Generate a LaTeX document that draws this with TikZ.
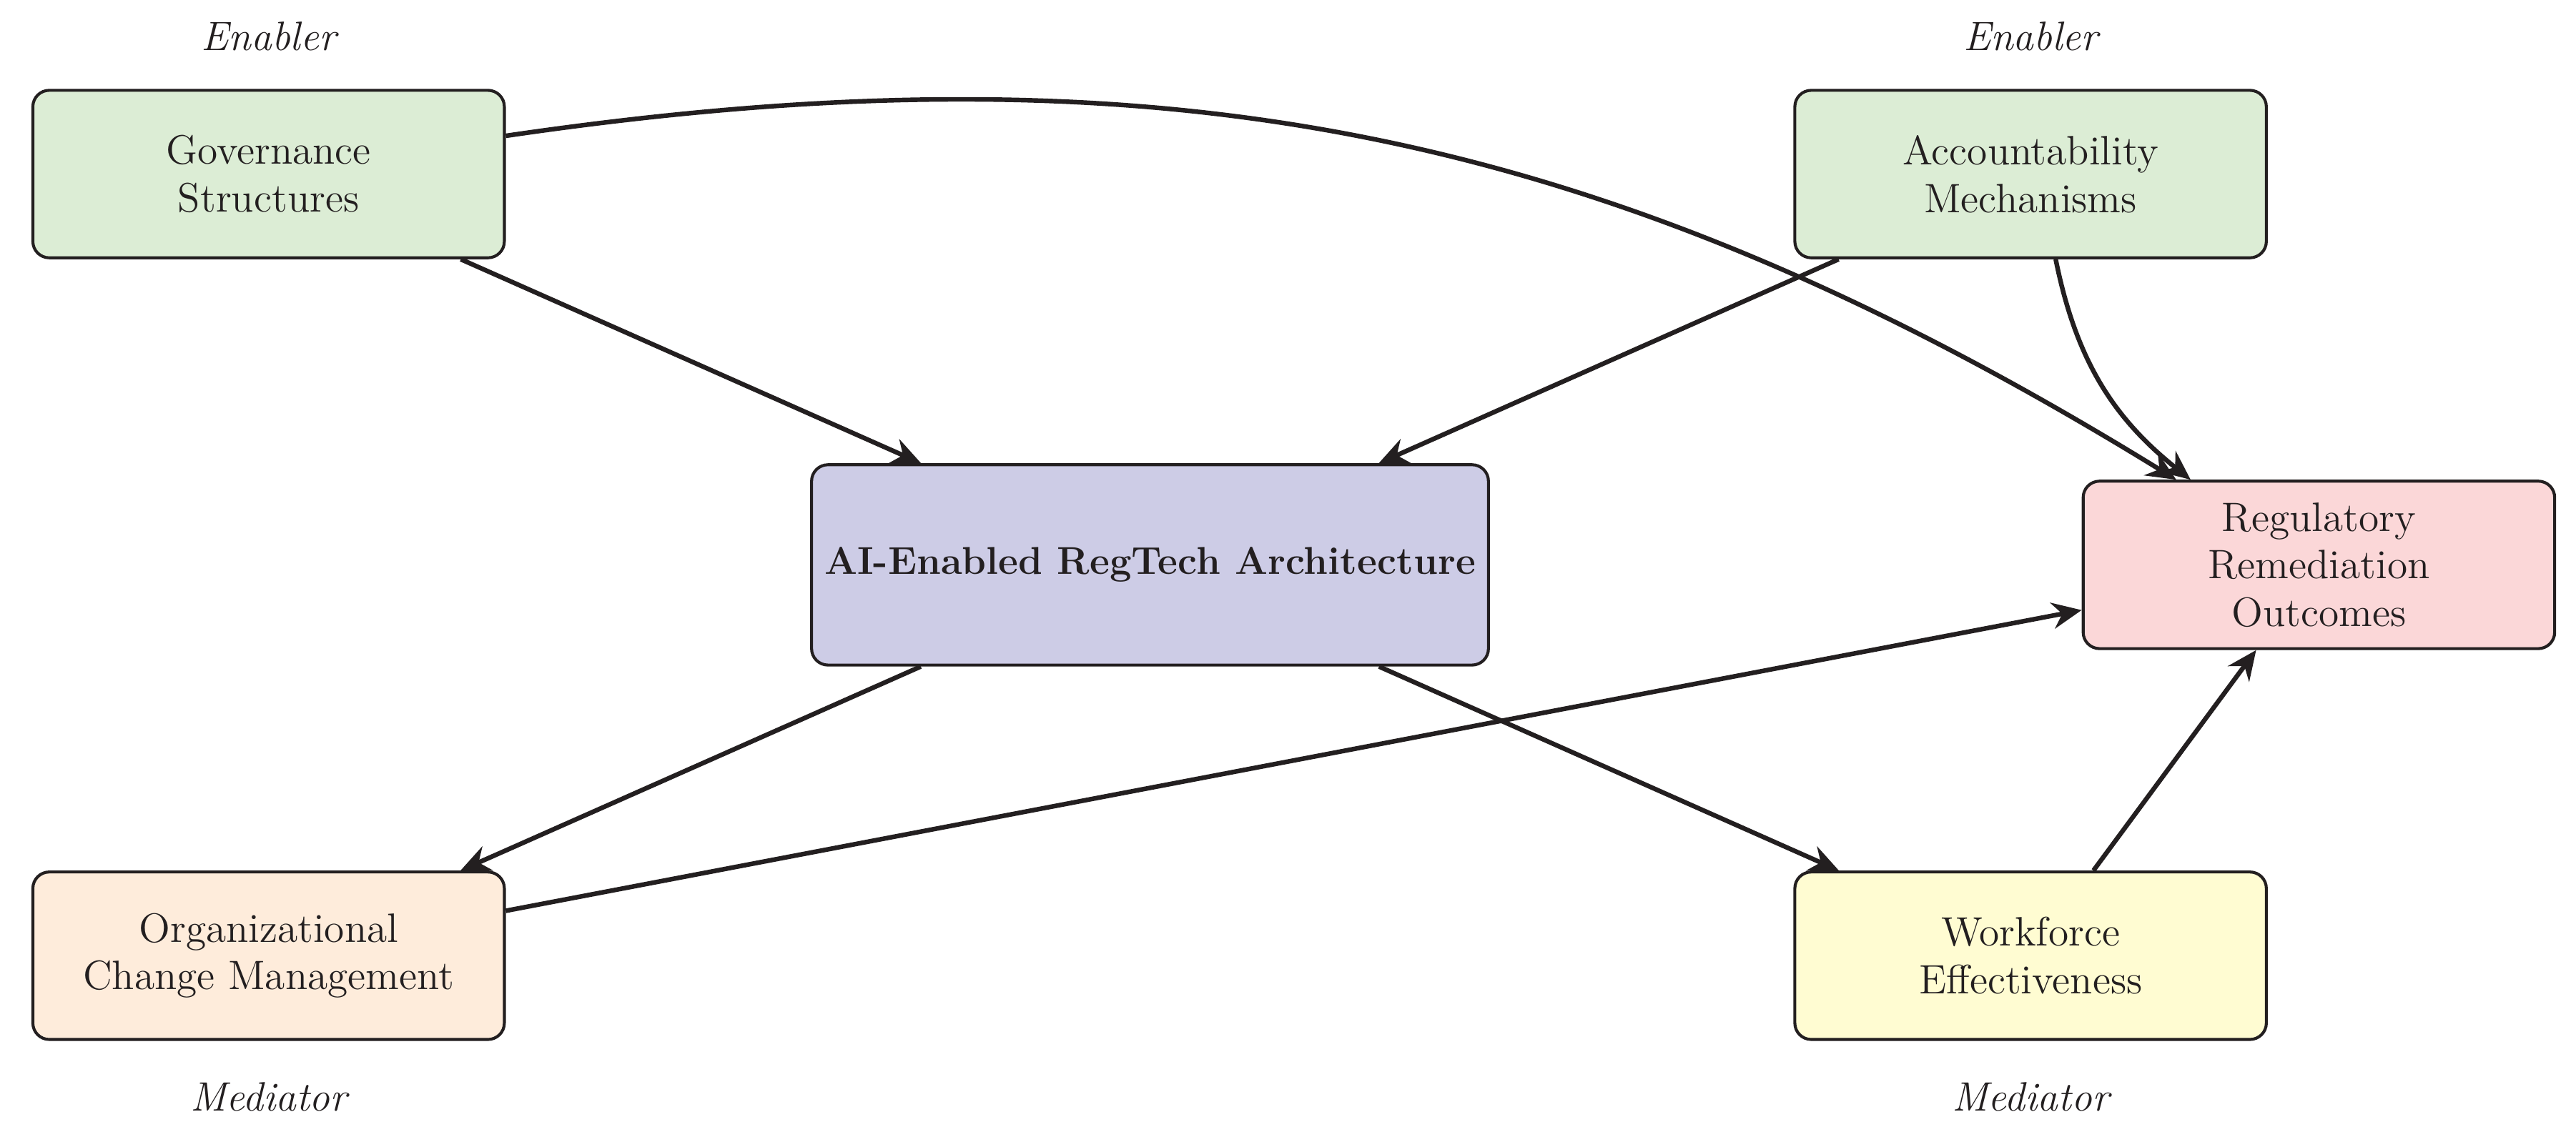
\documentclass[tikz,border=0pt]{standalone}
\usetikzlibrary{arrows.meta}
\definecolor{cgreen}{RGB}{220,237,213}
\definecolor{clav}{RGB}{205,204,230}
\definecolor{cpink}{RGB}{251,215,216}
\definecolor{corange}{RGB}{254,236,219}
\definecolor{cyellow}{RGB}{255,252,210}
\definecolor{ink}{RGB}{35,31,32}
\tikzset{
  box/.style={draw=ink, line width=0.9pt, rounded corners=5pt, align=center,
    minimum width=143.5pt, minimum height=51pt, inner sep=2pt, text=ink,
    font=\fontsize{12.5}{14.5}\selectfont},
  bigbox/.style={box, minimum width=206pt, minimum height=61pt,
    font=\fontsize{11.8}{14.5}\selectfont\bfseries},
  role/.style={font=\fontsize{12.5}{14.5}\selectfont\itshape, text=ink},
  link/.style={draw=ink, line width=1.4pt, -{Stealth[length=9pt,width=8pt,inset=3pt]}}
}
\begin{document}
\begin{tikzpicture}[x=0.5pt,y=-0.5pt]
\useasboundingbox (0,0) rectangle (1568,689);
\node[box, fill=cgreen] (gov) at (163.5,106) {Governance\\Structures};
\node[box, fill=cgreen] (acc) at (1236,106) {Accountability\\Mechanisms};
\node[bigbox, fill=clav] (ai) at (700,344) {AI-Enabled RegTech Architecture};
\node[box, fill=cpink] (reg) at (1411.5,344) {Regulatory\\Remediation\\Outcomes};
\node[box, fill=corange] (org) at (163.5,582) {Organizational\\Change Management};
\node[box, fill=cyellow] (wf) at (1236,582) {Workforce\\Effectiveness};
\node[role] (e1) at (163.5,22) {Enabler};
\node[role] (e2) at (1236,22) {Enabler};
\node[role] (m1) at (163.5,668) {Mediator};
\node[role] (m2) at (1236,668) {Mediator};
\draw[link] (gov) -- (ai);
\draw[link] (acc) -- (ai);
\draw[link] (ai) -- (org);
\draw[link] (ai) -- (wf);
\draw[link] (wf) -- (reg);
\draw[link] (org) -- (reg);
\draw[link] (gov) to[bend left=20] (reg);
\draw[link] (acc) to[bend right=20] (reg);
\end{tikzpicture}
\end{document}
